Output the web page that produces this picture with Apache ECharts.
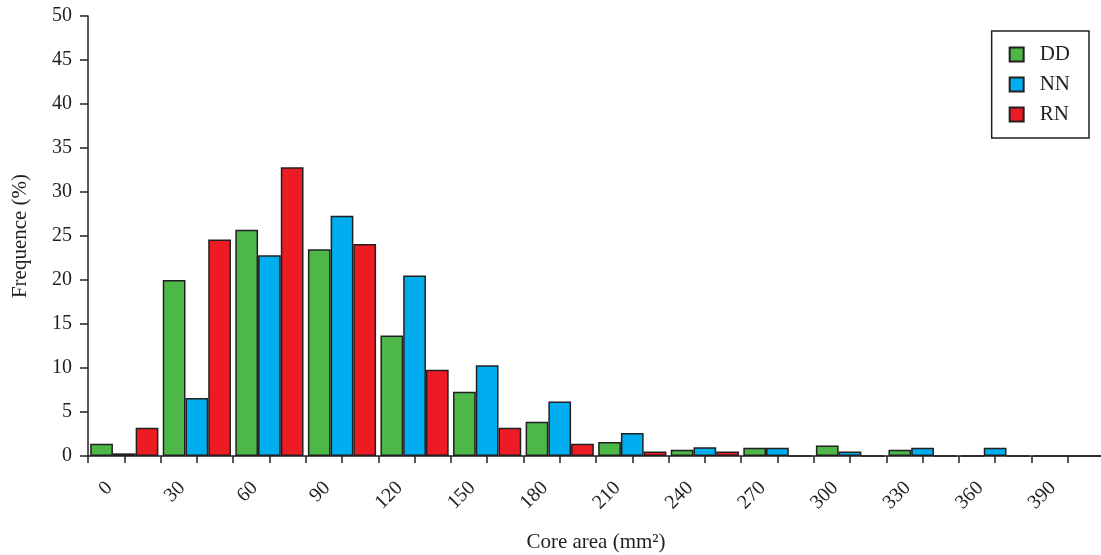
<!DOCTYPE html>
<html>
<head>
<meta charset="utf-8">
<script src="https://cdn.jsdelivr.net/npm/echarts@6/dist/echarts.min.js"></script>
<style>
  html, body { margin: 0; padding: 0; background: #fff; }
  #chart { width: 1101px; height: 555px; }
</style>
</head>
<body>
<div id="chart"></div>
<script>
// bins of core area (mm2)
var categories = ['0', '30', '60', '90', '120', '150', '180', '210', '240', '270', '300', '330', '360', '390'];
// frequence (%) per group
var ddValues = [1.4, 20.0, 25.7, 23.5, 13.7, 7.3, 3.9, 1.6, 0.7, 0.95, 1.2, 0.7, 0, 0];
var nnValues = [0.3, 6.6, 22.8, 27.3, 20.5, 10.3, 6.2, 2.6, 1.0, 0.95, 0.5, 0.95, 0.95, 0];
var rnValues = [3.2, 24.6, 32.8, 24.1, 9.8, 3.2, 1.4, 0.5, 0.5, 0, 0, 0, 0, 0];

var ink = '#231f20';
var serif = 'Liberation Serif';

var chart = echarts.init(document.getElementById('chart'));

function barSeries(name, color, data) {
  return {
    name: name,
    type: 'bar',
    xAxisIndex: 0,
    data: data,
    barGap: '0%',
    barCategoryGap: '6%',
    itemStyle: { color: color, borderColor: ink, borderWidth: 1.5 }
  };
}

var option = {
  backgroundColor: '#fff',
  animation: false,
  grid: { left: 88, right: -3, top: 16, bottom: 99, outerBoundsMode: 'none' },
  legend: {
    orient: 'vertical',
    right: 12,
    top: 31,
    padding: [13, 19, 13, 17],
    borderColor: ink,
    borderWidth: 1.5,
    itemWidth: 14,
    itemHeight: 14,
    itemGap: 9,
    icon: 'rect',
    textStyle: { fontFamily: serif, fontSize: 21, lineHeight: 20, color: ink, padding: [0, 0, 0, 11] },
    data: ['DD', 'NN', 'RN']
  },
  xAxis: [
    {
      type: 'category',
      data: categories,
      position: 'bottom',
      name: 'Core area (mm²)',
      nameLocation: 'middle',
      nameGap: 76,
      nameTextStyle: { fontFamily: serif, fontSize: 21, color: ink },
      axisLine: { lineStyle: { color: ink, width: 1.5 } },
      axisTick: { show: false },
      axisLabel: {
        rotate: 45,
        margin: 14,
        padding: [0, 21, 0, 0],
        fontFamily: serif,
        fontSize: 20,
        color: ink
      },
      splitLine: { show: false }
    },
    {
      // tick marks every half bin
      type: 'value',
      position: 'bottom',
      min: 0,
      max: 420,
      interval: 15,
      axisLine: { show: false },
      axisTick: { show: true, length: 7, lineStyle: { color: ink, width: 1.5 } },
      axisLabel: { show: false },
      splitLine: { show: false }
    }
  ],
  yAxis: {
    type: 'value',
    min: 0,
    max: 50,
    interval: 5,
    name: 'Frequence (%)',
    nameLocation: 'middle',
    nameRotate: 90,
    nameGap: 57,
    nameTextStyle: { fontFamily: serif, fontSize: 21, color: ink },
    axisLine: { show: true, lineStyle: { color: ink, width: 1.5 } },
    axisTick: { show: true, length: 8, lineStyle: { color: ink, width: 1.5 } },
    axisLabel: { margin: 16, fontFamily: serif, fontSize: 20, color: ink },
    splitLine: { show: false }
  },
  series: [
    barSeries('DD', '#4db848', ddValues),
    barSeries('NN', '#00aeef', nnValues),
    barSeries('RN', '#ed1c24', rnValues)
  ]
};

chart.setOption(option);
</script>
</body>
</html>
